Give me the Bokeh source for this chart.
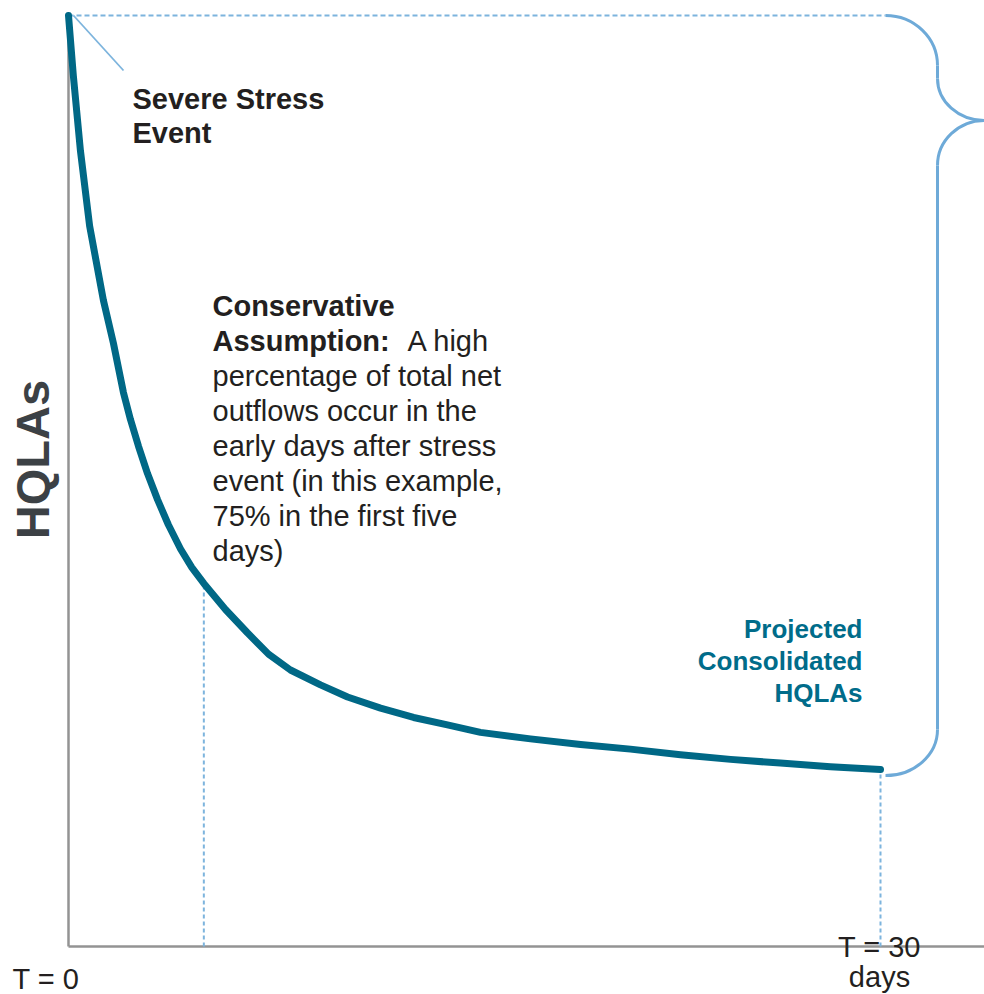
import numpy as np
from bokeh.plotting import figure
from bokeh.models import Label, Range1d
from bokeh.embed import file_html
from bokeh.resources import INLINE

# ---- data ----
days = [0, 0.18, 0.44, 0.78, 1.29, 1.66, 2.03, 2.29, 2.59, 2.92, 3.29, 3.69, 4.14, 4.56, 5,
        5.8, 6.61, 7.39, 8.2, 9.31, 10.31, 11.53, 12.75, 14.0, 15.22, 17.07, 18.92, 20.76,
        22.61, 24.46, 26.3, 28.15, 30]
hqla = [100, 93.5, 85.5, 77.4, 69.4, 64.8, 59.5, 56.6, 53.7, 50.8, 48.0, 45.3, 42.7, 40.7, 39.0,
        36.2, 33.7, 31.4, 29.7, 28.1, 26.8, 25.6, 24.6, 23.8, 23.0, 22.3, 21.7, 21.2,
        20.6, 20.1, 19.7, 19.3, 19.0]
marker_day = 5
axis_title = "HQLAs"
start_label = "T = 0"
end_labels = ["T = 30", "days"]
event_lines = ["Severe Stress", "Event"]
assump_bold = ["Conservative", "Assumption:"]
assump_rest = ["A high", "percentage of total net", "outflows occur in the",
               "early days after stress", "event (in this example,",
               "75% in the first five", "days)"]
series_label = ["Projected", "Consolidated", "HQLAs"]

# ---- geometry ----
W, H = 984, 994
kx = (880 - 68) / 30.0      # px per day
ky = (946 - 15) / 100.0     # px per HQLA unit
x_start = -68 / kx
x_end = x_start + W / kx
y_end = 100 + 15 / ky
y_start = y_end - H / ky

CURVE = "#006886"
DASH = "#7db4dd"
BRACE = "#6eaad8"
TXT = "#231f20"
AXIS = "#939393"
FONT = "Liberation Sans"
TEXT_SHIFT = 10   # baseline correction for svg text

p = figure(width=W, height=H, x_range=Range1d(x_start, x_end), y_range=Range1d(y_start, y_end),
           x_axis_type=None, y_axis_type=None, toolbar_location=None,
           output_backend="svg", min_border=0)
p.outline_line_color = None
p.background_fill_color = "white"
p.border_fill_color = "white"

def dx(px):
    return px / kx

def dy(px):
    return px / ky

# axes
p.segment(x0=[0, 0], y0=[0, 0], x1=[0, x_end], y1=[hqla[0], 0], line_color=AXIS, line_width=2.5)

# dashed guides
i5 = days.index(marker_day)
p.segment(x0=[days[i5], days[-1]], y0=[0, 0], x1=[days[i5], days[-1]], y1=[hqla[i5], hqla[-1]],
          line_color=DASH, line_width=2, line_dash="4 3")
p.segment(x0=[days[0]], y0=[hqla[0]], x1=[days[-1] + dx(5)], y1=[hqla[0]],
          line_color=DASH, line_width=2, line_dash="5 3")

# pointer to event label
p.segment(x0=[days[0] + dx(5)], y0=[hqla[0]], x1=[days[0] + dx(55)], y1=[hqla[0] - dy(55)],
          line_color=DASH, line_width=1.8)

# curly brace (from top value to final value)
bx0 = days[-1] + dx(5)
xv = bx0 + dx(52)
tipx = xv + dx(47)
top = hqla[0]
bot = hqla[-1] - dy(6)
tipy = top - dy(105)
k = 0.552
bz = dict(
    x0=[bx0, xv, tipx, xv],
    y0=[top, top - dy(63), tipy, bot + dy(46)],
    x1=[xv, tipx, xv, bx0],
    y1=[top - dy(50), tipy, tipy - dy(45), bot],
    cx0=[bx0 + k * dx(52), xv, tipx - k * dx(47), xv],
    cy0=[top, top - dy(63) - k * dy(42), tipy, bot + dy(46) - k * dy(46)],
    cx1=[xv, tipx - k * dx(47), xv, bx0 + k * dx(52)],
    cy1=[top - dy(50) + k * dy(50), tipy, tipy - dy(45) + k * dy(45), bot],
)
p.bezier(line_color=BRACE, line_width=3, **bz)
p.segment(x0=[xv, xv], y0=[top - dy(50), tipy - dy(45)], x1=[xv, xv], y1=[top - dy(63), bot + dy(46)],
          line_color=BRACE, line_width=3)

# main curve
p.line(days, hqla, line_color=CURVE, line_width=7, line_cap="round", line_join="round")

# ---- labels (screen units: x from left, y from bottom of canvas) ----
def lab(text, xp, yp, size="29px", bold=False, color=TXT, align="left", angle=0.0,
        baseline="alphabetic", shift=TEXT_SHIFT):
    p.add_layout(Label(x=xp, y=H - (yp - shift), x_units="screen", y_units="screen", text=text,
                       text_font=FONT, text_font_size=size,
                       text_font_style="bold" if bold else "normal",
                       text_color=color, text_align=align, text_baseline=baseline, angle=angle))

lab(axis_title, 31.5, 459, size="47px", bold=True, color="#3c4145", align="center",
    angle=np.pi / 2, baseline="middle", shift=0)

for i, t in enumerate(event_lines):
    lab(t, 132, 108 + 34 * i, bold=True)

base = 315
lab(assump_bold[0], 212, base, bold=True)
lab(assump_bold[1], 212, base + 35, bold=True)
lab(assump_rest[0], 407, base + 35)
for i, t in enumerate(assump_rest[1:]):
    lab(t, 212, base + 35 * (i + 2))

for i, t in enumerate(series_label):
    lab(t, 862, 638 + 32 * i, size="26px", bold=True, color="#006c8a", align="right")

lab(start_label, 12, 988)
lab(end_labels[0], 879, 956, align="center")
lab(end_labels[1], 879, 986, align="center")

open("out.html", "w").write(file_html(p, INLINE))
